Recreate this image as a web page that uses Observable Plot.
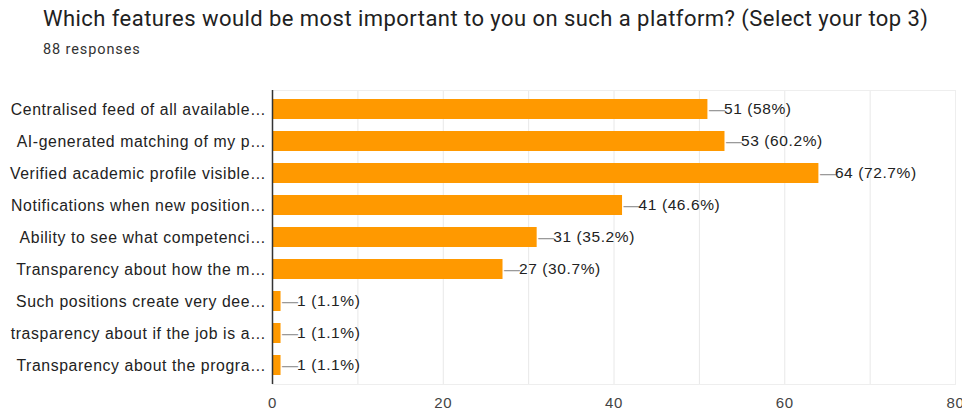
<!DOCTYPE html>
<html>
<head>
<meta charset="utf-8">
<script src="https://cdn.jsdelivr.net/npm/d3@7"></script>
<script src="https://cdn.jsdelivr.net/npm/@observablehq/plot@0.6"></script>
<style>
  html, body { margin: 0; padding: 0; background: #fff; }
  #wrap { width: 962px; height: 412px; position: relative; overflow: hidden; }
  #title { position: absolute; left: 43px; top: 6px; font-family: Roboto, sans-serif; font-size: 22px; letter-spacing: 0.45px; color: #212121; white-space: nowrap; line-height: 26px; }
  #sub { position: absolute; left: 43px; top: 41px; font-family: Roboto, sans-serif; font-size: 14.5px; letter-spacing: 0.9px; color: #333; line-height: 18px; white-space: nowrap; }
  #chart { position: absolute; left: 0; top: 70px; }
  #chart svg text { letter-spacing: 0.6px; }
</style>
</head>
<body>
<div id="wrap">
  <div id="title">Which features would be most important to you on such a platform? (Select your top 3)</div>
  <div id="sub">88 responses</div>
  <div id="chart"></div>
</div>
<script>
const categories = [
  "Centralised feed of all available…",
  "AI-generated matching of my p…",
  "Verified academic profile visible…",
  "Notifications when new position…",
  "Ability to see what competenci…",
  "Transparency about how the m…",
  "Such positions create very dee…",
  "trasparency about if the job is a…",
  "Transparency about the progra…"
];
const counts = [51, 53, 64, 41, 31, 27, 1, 1, 1];
const percents = ["58%", "60.2%", "72.7%", "46.6%", "35.2%", "30.7%", "1.1%", "1.1%", "1.1%"];
const xTicks = [0, 20, 40, 60, 80];
const gridTicks = [0, 10, 20, 30, 40, 50, 60, 70, 80];

const data = categories.map((c, i) => ({cat: c, value: counts[i], label: `${counts[i]} (${percents[i]})`}));

const font = "'Liberation Sans', Arial, sans-serif";

const chart = Plot.plot({
  width: 962,
  height: 342,
  marginLeft: 272,
  marginRight: 7,
  marginTop: 20,
  marginBottom: 28,
  style: {fontFamily: font, fontSize: "15px", color: "#222", background: "#fff", overflow: "visible"},
  x: {domain: [0, 80], ticks: xTicks, tickSize: 0, tickPadding: 12, label: null},
  y: {domain: categories, paddingInner: 0.37, paddingOuter: 0.185, tickSize: 0, tickPadding: 5, label: null},
  marks: [
    Plot.gridX(gridTicks, {stroke: "#e8e8e8", strokeOpacity: 1}),
    Plot.frame({stroke: "#eeeeee", strokeOpacity: 1}),
    Plot.barX(data, {y: "cat", x: "value", fill: "#ff9900"}),
    Plot.text(data, {y: "cat", x: "value", text: () => "—", dx: 1, textAnchor: "start", fill: "#9a9a9a", fontSize: 16}),
    Plot.text(data, {y: "cat", x: "value", text: "label", dx: 16, textAnchor: "start", fill: "#222", fontSize: 15.5}),
    Plot.ruleX([0], {stroke: "#333", strokeWidth: 1.5}),
    Plot.axisX({ticks: xTicks, tickSize: 0, tickPadding: 13, fill: "#444", fontSize: 15, label: null}),
    Plot.axisY({tickSize: 0, tickPadding: 6, fill: "#222", fontSize: 15.8, label: null})
  ]
});
document.getElementById("chart").appendChild(chart);
</script>
</body>
</html>
